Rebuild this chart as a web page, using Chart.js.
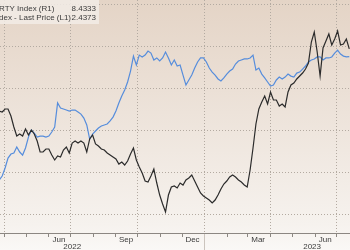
<!DOCTYPE html>
<html><head><meta charset="utf-8">
<script src="https://cdn.jsdelivr.net/npm/chart.js@4.4.0/dist/chart.umd.min.js"></script>
<style>html,body{margin:0;padding:0;background:#faf8f6;overflow:hidden}canvas{display:block}</style>
</head><body>
<canvas id="c" width="350" height="250"></canvas>
<script>
// sampled every 4 days from startDate
const startDate='2022-03-25', stepDays=4;
const seriesNames=['RTY Index (R1)','Index - Last Price (L1)'];
const blackVals=[
6.952,6.929,7.000,7.000,6.833,6.571,6.357,6.405,6.357,6.524,
6.381,6.500,6.405,6.238,5.976,5.976,6.048,6.048,5.905,5.786,
5.881,5.857,6.024,6.095,5.952,6.190,6.238,6.190,6.238,6.190,
5.976,6.286,6.381,6.167,6.119,6.048,6.024,5.952,5.905,5.857,
5.810,5.690,5.738,5.667,5.762,5.929,6.071,5.786,5.619,5.476,
5.286,5.262,5.405,5.571,5.238,4.952,4.738,4.548,4.952,5.143,
5.167,5.119,5.238,5.190,5.310,5.357,5.429,5.286,5.143,5.000,
4.929,4.881,4.833,4.762,4.833,4.952,5.095,5.214,5.286,5.381,
5.429,5.381,5.310,5.262,5.190,5.143,5.548,6.071,6.643,7.000,
7.167,7.310,7.119,7.405,7.214,7.214,7.071,7.119,7.048,7.405,
7.571,7.619,7.714,7.786,7.857,7.952,8.095,8.595,8.833,8.357,
7.786,8.452,8.619,8.786,8.524,8.667,8.857,8.524,8.548,8.667,
8.4333];
const blueVals=[
1.702,1.726,1.774,1.833,1.857,1.863,1.899,1.869,1.851,1.893,
1.958,2.000,1.982,1.958,1.964,1.964,1.958,1.964,1.988,2.018,
2.161,2.131,2.125,2.119,2.113,2.119,2.119,2.107,2.095,2.071,
2.030,1.946,1.976,1.994,2.012,2.024,2.030,2.036,2.054,2.077,
2.113,2.161,2.202,2.238,2.286,2.351,2.440,2.387,2.446,2.435,
2.446,2.470,2.458,2.417,2.429,2.411,2.429,2.464,2.429,2.387,
2.417,2.381,2.387,2.327,2.268,2.298,2.327,2.369,2.405,2.429,
2.429,2.405,2.369,2.345,2.327,2.304,2.292,2.310,2.333,2.351,
2.363,2.393,2.411,2.417,2.423,2.423,2.429,2.446,2.357,2.369,
2.333,2.310,2.286,2.262,2.268,2.298,2.315,2.304,2.315,2.333,
2.321,2.315,2.339,2.345,2.363,2.381,2.405,2.417,2.423,2.435,
2.435,2.417,2.429,2.429,2.435,2.458,2.476,2.452,2.440,2.435,
2.4373];
const monthStarts=['2022-04-01','2022-05-01','2022-06-01','2022-07-01','2022-08-01','2022-09-01','2022-10-01','2022-11-01','2022-12-01',
  '2023-01-01','2023-02-01','2023-03-01','2023-04-01','2023-05-01','2023-06-01','2023-07-01'];
const gridDates=['2022-04-01','2022-07-01','2022-10-01','2023-01-01','2023-04-01','2023-07-01'];
const monthLabels=['Jun','Sep','Dec','Mar','Jun'];
const monthLabelDates=['2022-06-15','2022-09-15','2022-12-15','2023-03-15','2023-06-15'];
const yearLabels=['2022','2023'];
const yearLabelDates=['2022-07-03','2023-05-28'];
const yearBreak='2023-01-01';
const leftTicks=[1.5,1.75,2,2.25,2.5,2.75];
const viewStart='2022-03-26', viewEnd='2023-07-19';

const DAY=864e5, base=Date.parse('2022-01-01');
const dn=s=>(Date.parse(s)-base)/DAY;
const t0=dn(startDate);
const xs=blackVals.map((_,i)=>t0+i*stepDays);
const xMin=dn(viewStart), xMax=dn(viewEnd);
const gridSet=new Set(gridDates.map(dn)), monthSet=new Set(monthStarts.map(dn)), breakVal=dn(yearBreak);
const gridCol='#b3aaa1', axisCol='#8c8782', sepCol='#cbc4bd', txtCol='#3a3a3a', clear='rgba(0,0,0,0)';
const tv=c=>c.tick?c.tick.value:NaN;

const bgPlugin={id:'bg',beforeDraw(chart){const {ctx,width,height}=chart;const g=ctx.createLinearGradient(0,0,0,height);
  g.addColorStop(0,'#e4d4c6');g.addColorStop(0.9,'#f6f2ee');g.addColorStop(1,'#faf8f6');ctx.save();ctx.fillStyle=g;ctx.fillRect(0,0,width,height);ctx.restore();}};
const legendPlugin={id:'legendBox',afterDraw(chart){const ctx=chart.ctx,ds=chart.data.datasets;ctx.save();
  ctx.fillStyle='rgba(242,236,230,0.85)';ctx.fillRect(0,0,99,24);
  ctx.font='8px "Liberation Sans", Arial, sans-serif';ctx.fillStyle=txtCol;ctx.textBaseline='middle';
  const last=d=>d.data[d.data.length-1].y.toFixed(4);
  ctx.textAlign='left';ctx.fillText(ds[0].label,-1,9);
  ctx.fillText(ds[1].label,-ctx.measureText('In').width-1,18);
  ctx.textAlign='right';ctx.fillText(last(ds[0]),96,9);ctx.fillText(last(ds[1]),96,18);
  ctx.restore();}};

new Chart(document.getElementById('c'),{
  type:'line',
  data:{datasets:[
    {label:seriesNames[0],data:xs.map((x,i)=>({x,y:blackVals[i]})),yAxisID:'yR',borderColor:'#2b2b2b',borderWidth:1.2,pointRadius:0,tension:0},
    {label:seriesNames[1],data:xs.map((x,i)=>({x,y:blueVals[i]})),yAxisID:'yL',borderColor:'#568ddc',borderWidth:1.2,pointRadius:0,tension:0}
  ]},
  options:{
    responsive:false,animation:false,devicePixelRatio:1,
    layout:{padding:{left:0,right:0,top:0,bottom:6}},
    plugins:{legend:{display:false},tooltip:{enabled:false}},
    scales:{
      x:{type:'linear',position:'bottom',min:xMin,max:xMax,
        afterBuildTicks:s=>{s.ticks=[...monthStarts,...monthLabelDates,...yearLabelDates].map(d=>({value:dn(d)}));},
        ticks:{autoSkip:false,maxRotation:0,mirror:true,padding:-3,color:txtCol,
          font:{family:'"Liberation Sans", Arial, sans-serif',size:8,lineHeight:0.875},
          callback:v=>{let i=monthLabelDates.findIndex(d=>dn(d)===v);if(i>=0)return ['',monthLabels[i],''];
            i=yearLabelDates.findIndex(d=>dn(d)===v);if(i>=0)return ['','',yearLabels[i]];return '';}},
        grid:{color:c=>gridSet.has(tv(c))?gridCol:clear,lineWidth:1,drawTicks:true,tickLength:17,tickWidth:1,
          tickColor:c=>tv(c)===breakVal?sepCol:(monthSet.has(tv(c))?axisCol:clear),
          tickBorderDash:c=>tv(c)===breakVal?[]:[3,40]},
        border:{display:true,color:axisCol,width:1,dash:[1,2]}},
      yL:{position:'left',min:1.387,max:2.774,
        afterBuildTicks:s=>{s.ticks=leftTicks.map(v=>({value:v}));},
        ticks:{display:false},
        grid:{color:gridCol,drawTicks:false,lineWidth:1},
        border:{display:false,dash:[1,2]}},
      yR:{position:'right',display:false,min:4.048,max:9.595}
    }
  },
  plugins:[bgPlugin,legendPlugin]
});
</script>
</body></html>
